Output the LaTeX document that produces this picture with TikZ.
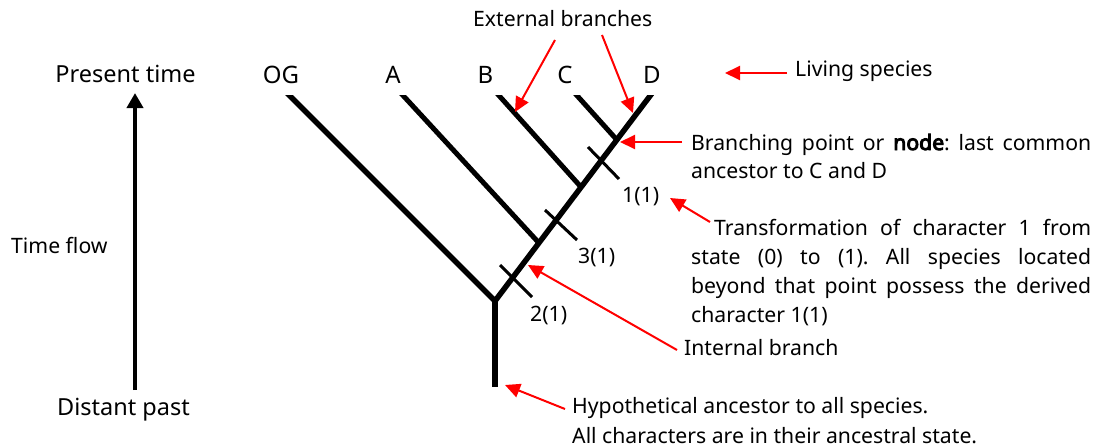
\documentclass[tikz,border=0pt]{standalone}
\usepackage{fontspec}
\setmainfont{Noto Sans}[AutoFakeBold=4.5]
\usetikzlibrary{arrows.meta}
\begin{document}
\frenchspacing
\begin{tikzpicture}[x=1pt,y=-1pt,
  vbr/.style={line width=5.5pt, line join=miter},
  branch/.style={line width=5pt},
  stem/.style={line width=6pt},
  tick/.style={line width=3pt},
  redarrow/.style={red, line width=2pt, -{Triangle[length=15pt,width=14pt]}},
  timearrow/.style={line width=4.5pt, -{Triangle[length=15pt,width=16pt]}},
  lbl/.style={inner sep=0pt, font=\fontsize{21.2}{28.5}\selectfont},
  spc/.style={inner sep=0pt, anchor=base, font=\fontsize{24}{28}\selectfont},
  axl/.style={inner sep=0pt, anchor=base, font=\fontsize{23.5}{28}\selectfont},
  ]
\useasboundingbox (0,0) rectangle (1109,447);

% ---- tree coordinates ----
\coordinate (F) at (495,301);
\coordinate (Fs) at (495,297);
\coordinate (R) at (495,387);
\coordinate (OGtop) at (284,90);
\coordinate (Dtop) at (654.5,90);
\coordinate (jA) at (539,243);
\coordinate (Atop) at (398,90);
\coordinate (jB) at (581,187);
\coordinate (Btop) at (494,90);
\coordinate (jC) at (617,140);
\coordinate (Ctop) at (572,90);

\begin{scope}
  \clip (0,95) rectangle (1109,447);
  \draw[vbr] (OGtop) -- (F) -- (Dtop);
  \draw[branch] (Atop) -- (jA);
  \draw[branch] (Btop) -- (jB);
  \draw[branch] (Ctop) -- (jC);
\end{scope}
\draw[stem] (Fs) -- (R);

% ---- character ticks ----
\coordinate (t1a) at (588,147); \coordinate (t1b) at (619,179);
\coordinate (t3a) at (545,210); \coordinate (t3b) at (577,240);
\coordinate (t2a) at (500,265); \coordinate (t2b) at (532,297);
\draw[tick] (t1a) -- (t1b);
\draw[tick] (t3a) -- (t3b);
\draw[tick] (t2a) -- (t2b);

\node[lbl, anchor=base west] (c1) at (622,202) {1(1)};
\node[lbl, anchor=base west] (c3) at (578,263) {3(1)};
\node[lbl, anchor=base west] (c2) at (530,321) {2(1)};

% ---- species labels ----
\node[spc] (og) at (281,83) {OG};
\node[spc] (sa) at (393,83) {A};
\node[spc] (sb) at (485.5,83) {B};
\node[spc] (sc) at (565,83) {C};
\node[spc] (sd) at (652,83) {D};

% ---- time axis ----
\node[axl] (pt) at (125.5,82) {Present time};
\node[axl] (dp) at (123.5,415) {Distant past};
\node[lbl, anchor=base west] (tf) at (11,253) {Time flow};
\coordinate (tb) at (135,390);
\coordinate (tt) at (135,93);
\draw[timearrow] (tb) -- (tt);

% ---- annotations ----
\node[lbl, anchor=base west] (ext) at (473,27) {External branches};
\node[lbl, anchor=base west] (liv) at (795,76) {Living species};
\node[lbl, anchor=base west] (bp) at (691,150)
  {\parbox[t]{400pt}{\fontsize{21.2}{28.5}\selectfont Branching point or \textbf{node}: last common\linebreak ancestor to C and D}};
\node[lbl, anchor=base west] (tr) at (691,235)
  {\parbox[t]{400pt}{\fontsize{21.2}{29}\selectfont\hspace*{23pt}Transformation of character 1 from\linebreak state (0) to (1). All species located\linebreak beyond that point possess the derived\linebreak character 1(1)}};
\node[lbl, anchor=base west] (ib) at (684,355) {Internal branch};
\node[lbl, anchor=base west] (hy) at (572,413)
  {\parbox[t]{430pt}{\fontsize{21.2}{30}\selectfont Hypothetical ancestor to all species.\\All characters are in their ancestral state.}};

% ---- red arrows ----
\coordinate (e1s) at (555,40);  \coordinate (e1t) at (515,112);
\coordinate (e2s) at (602,35);  \coordinate (e2t) at (633,113);
\coordinate (lvs) at (787,73);  \coordinate (lvt) at (725,73);
\coordinate (bps) at (682,142); \coordinate (bpt) at (620,142);
\coordinate (trs) at (710,222); \coordinate (trt) at (670,198);
\coordinate (ibs) at (677,350); \coordinate (ibt) at (528,265);
\coordinate (hys) at (565,409); \coordinate (hyt) at (505,385);
\draw[redarrow] (e1s) -- (e1t);
\draw[redarrow] (e2s) -- (e2t);
\draw[redarrow] (lvs) -- (lvt);
\draw[redarrow] (bps) -- (bpt);
\draw[redarrow] (trs) -- (trt);
\draw[redarrow] (ibs) -- (ibt);
\draw[redarrow] (hys) -- (hyt);
\end{tikzpicture}
\end{document}
